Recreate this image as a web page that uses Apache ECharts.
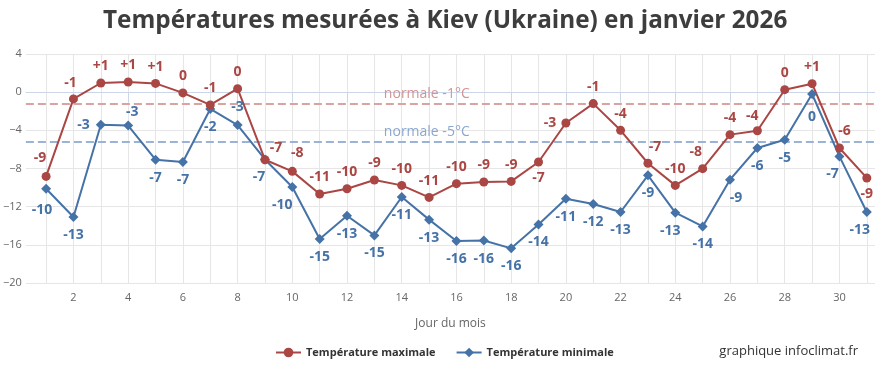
<!DOCTYPE html>
<html>
<head>
<meta charset="utf-8">
<script src="https://cdn.jsdelivr.net/npm/echarts@6/dist/echarts.min.js"></script>
<style>html,body{margin:0;padding:0;background:#fff;}#c{width:875px;height:369px;}</style>
</head>
<body>
<div id="c"></div>
<script>
// ---- Data ----
const days = [1,2,3,4,5,6,7,8,9,10,11,12,13,14,15,16,17,18,19,20,21,22,23,24,25,26,27,28,29,30,31];
const tmax = [-8.83,-0.71,0.96,1.07,0.92,-0.08,-1.34,0.37,-7.08,-8.3,-10.67,-10.12,-9.2,-9.77,-11.03,-9.59,-9.41,-9.35,-7.32,-3.23,-1.2,-4.0,-7.45,-9.77,-8.02,-4.45,-4.04,0.26,0.89,-5.85,-8.99];
const tmin = [-10.12,-13.08,-3.41,-3.5,-7.08,-7.32,-1.76,-3.45,-7.05,-9.94,-15.39,-12.95,-15.01,-10.99,-13.36,-15.6,-15.55,-16.37,-13.86,-11.16,-11.72,-12.56,-8.72,-12.63,-14.07,-9.17,-5.85,-4.98,-0.19,-6.73,-12.56];
const normalMax = -1.2;
const normalMin = -5.2;
const xLabelDays = [2,4,6,8,10,12,14,16,18,20,22,24,26,28,30];

// ---- label placement tweaks (style, keyed by day) ----
const maxLabelAdj = {
  1:{offset:[-6,-2]}, 2:{offset:[-3,1]}, 9:{offset:[11,5]}, 10:{offset:[5,-2]},
  19:{position:'bottom'}, 20:{position:'left'}, 23:{offset:[7,0]}, 25:{offset:[-7,0]},
  27:{offset:[-5,2]}, 30:{offset:[5,0]}, 31:{position:'bottom'}
};
const minLabelAdj = {
  1:{offset:[-4,3]}, 3:{position:'left'}, 4:{position:'top', offset:[4,4]}, 8:{position:'top'},
  9:{offset:[-6,0]}, 10:{offset:[-10,0]}, 24:{offset:[-5,0]}, 26:{offset:[6,0]},
  29:{offset:[0,5]}, 30:{offset:[-7,0]}, 31:{offset:[-7,0]}
};

const RED = '#aa4643', BLUE = '#4572a7';
const FONT = '"Open Sans", "Noto Sans", sans-serif';

function fmtVal(v){
  const r = Math.round(v);
  if (r === 0) return '0';
  return r > 0 ? '+' + r : String(r);
}
function fmtAxis(v){
  if (v < 0) return '\u2212' + Math.abs(v);
  return String(v);
}
function buildData(vals, adj){
  return days.map((d,i)=>{
    const item = {value:[d, vals[i]]};
    if (adj[d]) item.label = Object.assign({}, adj[d]);
    return item;
  });
}

const chart = echarts.init(document.getElementById('c'), null, {renderer:'canvas'});
chart.setOption({
  animation:false,
  textStyle:{fontFamily:FONT},
  title:[
    {text:'Températures mesurées à Kiev (Ukraine) en janvier 2026', left:98, top:4,
     textStyle:{fontFamily:FONT, fontSize:24.3, fontWeight:'bold', color:'#3d3d3d'}},
    {text:'graphique infoclimat.fr', right:12, top:340,
     textStyle:{fontFamily:FONT, fontSize:13, fontWeight:'normal', color:'#333'}}
  ],
  legend:{
    top:342, left:270, itemWidth:25, itemHeight:12, itemGap:20,
    textStyle:{fontFamily:FONT, fontSize:11, fontWeight:'bold', color:'#333'},
    data:['Température maximale','Température minimale']
  },
  grid:{left:25, right:0, top:54, bottom:86, containLabel:false},
  xAxis:{
    type:'value', min:0.26, max:31.3,
    name:'Jour du mois', nameLocation:'middle', nameGap:35,
    nameTextStyle:{fontFamily:FONT, fontSize:12, color:'#666'},
    axisLine:{show:true, lineStyle:{color:'#ccd6eb', width:1}},
    axisTick:{show:true, length:10, lineStyle:{color:'#ccd6eb'}, customValues:xLabelDays},
    axisLabel:{show:true, margin:9, fontFamily:FONT, fontSize:11, color:'#666', customValues:xLabelDays},
    splitLine:{show:false}
  },
  yAxis:{
    type:'value', min:-20, max:4, interval:4,
    axisLine:{show:false}, axisTick:{show:false},
    axisLabel:{fontFamily:FONT, fontSize:11, color:'#666', margin:4, formatter:fmtAxis},
    splitLine:{show:true, lineStyle:{color:'#e6e6e6', width:1}}
  },
  series:[
    {
      type:'line', name:'grid', data:[], z:0, silent:true, legendHoverLink:false,
      markLine:{
        z:0, silent:true, symbol:['none','none'], animation:false,
        lineStyle:{color:'#e6e6e6', width:1, type:'solid'},
        label:{show:false},
        data: days.map(d=>({xAxis:d}))
      }
    },
    {
      type:'line', name:'Température minimale', data:buildData(tmin, minLabelAdj), z:3,
      symbol:'diamond', symbolSize:10, color:BLUE,
      lineStyle:{width:2, color:BLUE}, itemStyle:{color:BLUE},
      label:{show:true, position:'bottom', distance:6, fontFamily:FONT, fontSize:14, fontWeight:'bold', color:BLUE,
        formatter:p=>fmtVal(p.value[1])},
      markLine:{
        z:1, silent:true, symbol:['none','none'],
        lineStyle:{color:'#9ab3d6', width:2, type:[8,4]},
        label:{show:true, position:'insideStartTop', distance:[358,3], formatter:'normale -5°C',
          fontFamily:FONT, fontSize:14, color:'#8ba7cf'},
        data:[{yAxis:normalMin}]
      }
    },
    {
      type:'line', name:'Température maximale', data:buildData(tmax, maxLabelAdj), z:3,
      symbol:'circle', symbolSize:9, color:RED,
      lineStyle:{width:2, color:RED}, itemStyle:{color:RED},
      label:{show:true, position:'top', distance:5, fontFamily:FONT, fontSize:14, fontWeight:'bold', color:RED,
        formatter:p=>fmtVal(p.value[1])},
      markLine:{
        z:1, silent:true, symbol:['none','none'],
        lineStyle:{color:'#d9a3a2', width:2, type:[8,4]},
        label:{show:true, position:'insideStartTop', distance:[358,3], formatter:'normale -1°C',
          fontFamily:FONT, fontSize:14, color:'#d49392'},
        data:[{yAxis:normalMax}]
      }
    }
  ]
});
</script>
</body>
</html>
